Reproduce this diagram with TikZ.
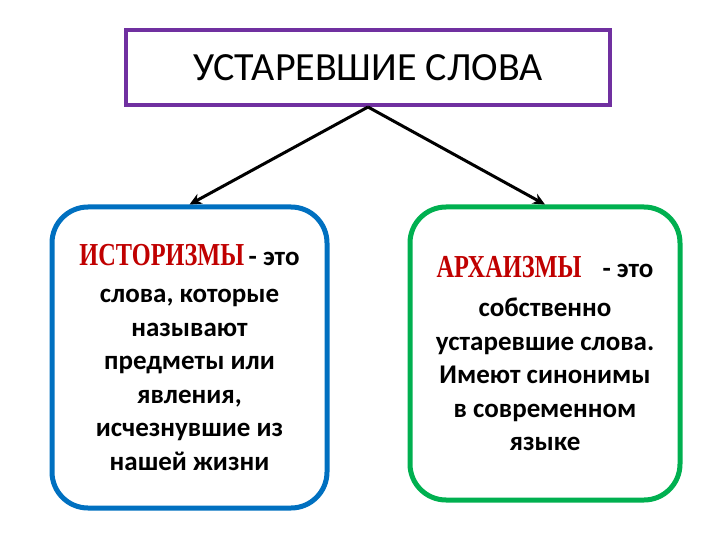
\documentclass[tikz,border=0pt]{standalone}
\usepackage{fontspec}
\setmainfont{Carlito}
\newfontfamily\redfont{Liberation Serif}
\usetikzlibrary{arrows.meta}
\definecolor{tpurple}{HTML}{7030A0}
\definecolor{tblue}{HTML}{0070C0}
\definecolor{tgreen}{HTML}{00B050}
\definecolor{tred}{HTML}{C00000}
\tikzset{
  titlebox/.style={draw=tpurple, line width=4pt, minimum width=484pt, minimum height=75pt, inner sep=0pt, font=\fontsize{40}{46}\selectfont},
  defbox/.style={draw=#1, line width=5pt, rounded corners=36pt, inner sep=0pt, align=center, font=\bfseries\fontsize{27}{33.5}\selectfont},
  conn/.style={line width=3pt, -{Stealth[length=12pt,width=11pt]}}
}
\newcommand{\redword}[1]{{\color{tred}\redfont\fontsize{32}{34}\selectfont\scalebox{0.76}[1]{#1}}}
\begin{document}
\begin{tikzpicture}[x=1pt,y=-1pt]
\useasboundingbox (0,0) rectangle (720,540);
\node[titlebox] (top) at (368,67.5) {УСТАРЕВШИЕ СЛОВА};
\node[defbox=tblue, minimum width=275pt, minimum height=301pt] (left) at (189.5,357.5)
  {\redword{ИСТОРИЗМЫ}\,- это\\[4pt] слова, которые\\ называют\\ предметы или\\ явления,\\ исчезнувшие из\\ нашей жизни};
\node[defbox=tgreen, minimum width=270pt, minimum height=293pt] (right) at (545,353.5)
  {\redword{АРХАИЗМЫ}\;\; - это\\[6pt] собственно\\ устаревшие слова.\\ Имеют синонимы\\ в современном\\ языке};
\draw[conn] (top.south) -- (left.north);
\draw[conn] (top.south) -- (right.north);
\end{tikzpicture}
\end{document}
